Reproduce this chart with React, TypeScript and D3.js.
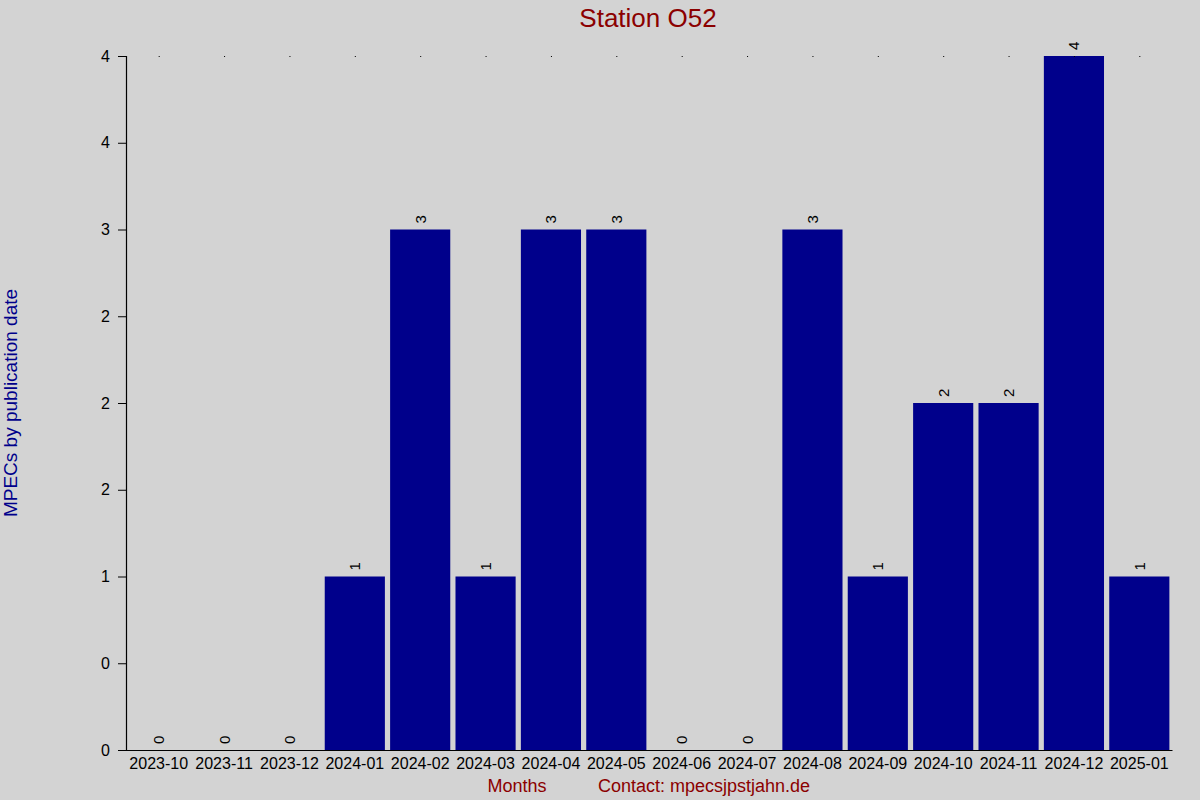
import { useMemo, useEffect, useRef } from "react";
import * as d3 from "d3";

const width = 1200;
const height = 800;
const margin = { top: 56, right: 28, bottom: 50, left: 126 };

const months = [
  "2023-10", "2023-11", "2023-12", "2024-01", "2024-02", "2024-03", "2024-04", "2024-05",
  "2024-06", "2024-07", "2024-08", "2024-09", "2024-10", "2024-11", "2024-12", "2025-01",
];
const counts = [0, 0, 0, 1, 3, 1, 3, 3, 0, 0, 3, 1, 2, 2, 4, 1];
const yTicks = [0, 0.5, 1, 1.5, 2, 2.5, 3, 3.5, 4];
const yTickLabels = ["0", "0", "1", "2", "2", "2", "3", "4", "4"];

const font = "'Liberation Sans', Arial, sans-serif";

const App = () => {
  const xAxisRef = useRef(null);
  const yAxisRef = useRef(null);

  const { xScale, yScale } = useMemo(() => {
    const xScale = d3
      .scaleBand()
      .domain(months)
      .range([margin.left, width - margin.right])
      .paddingInner(0.08)
      .paddingOuter(0.04);
    const yScale = d3
      .scaleLinear()
      .domain([0, 4])
      .range([height - margin.bottom, margin.top]);
    return { xScale, yScale };
  }, []);

  // Draw the axes
  useEffect(() => {
    if (xAxisRef.current) {
      const g = d3.select<SVGGElement, unknown>(xAxisRef.current);
      g.call(d3.axisBottom(xScale).tickSize(0).tickPadding(8));
      g.select(".domain").attr("stroke", "#000").attr("stroke-width", 1.2);
      g.selectAll("text")
        .attr("font-family", font)
        .attr("font-size", 16)
        .attr("fill", "#000");
    }
    if (yAxisRef.current) {
      const g = d3.select<SVGGElement, unknown>(yAxisRef.current);
      g.call(
        d3
          .axisLeft(yScale)
          .tickValues(yTicks)
          .tickFormat((_, i) => yTickLabels[i])
          .tickSize(8)
          .tickSizeOuter(8)
          .tickPadding(8)
      );
      g.select(".domain").attr("stroke", "#000").attr("stroke-width", 1.2);
      g.selectAll("line").attr("stroke", "#000");
      g.selectAll("text")
        .attr("font-family", font)
        .attr("font-size", 16)
        .attr("fill", "#000");
    }
  }, [xScale, yScale]);

  const bw = xScale.bandwidth();

  return (
    <svg
      width={width}
      height={height}
      style={{ position: "absolute", left: 0, top: 0, background: "#d3d3d3" }}
    >
      <rect x={0} y={0} width={width} height={height} fill="#d3d3d3" />
      <text
        x={648}
        y={27}
        textAnchor="middle"
        fontFamily={font}
        fontSize={26}
        fill="#8b0000"
      >
        Station O52
      </text>
      {months.map((m, i) => (
        <rect
          key={m}
          x={xScale(m)}
          y={yScale(counts[i])}
          width={bw}
          height={yScale(0) - yScale(counts[i])}
          fill="#00008b"
        />
      ))}
      {months.map((m) => (
        <rect
          key={"dot" + m}
          x={(xScale(m) as number) + bw / 2}
          y={yScale(4)}
          width={1}
          height={1}
          fill="#000"
        />
      ))}
      {months.map((m, i) => {
        const cx = (xScale(m) as number) + bw / 2;
        const cy = yScale(counts[i]) - 6;
        return (
          <text
            key={"lbl" + m}
            transform={`translate(${cx + 5.5},${cy}) rotate(-90)`}
            textAnchor="start"
            fontFamily={font}
            fontSize={15}
            fill="#000"
          >
            {counts[i]}
          </text>
        );
      })}
      <g ref={xAxisRef} transform={`translate(0, ${height - margin.bottom})`} />
      <g ref={yAxisRef} transform={`translate(${margin.left}, 0)`} />
      <text
        transform={`translate(17, ${403}) rotate(-90)`}
        textAnchor="middle"
        fontFamily={font}
        fontSize={19}
        fill="#00008b"
      >
        MPECs by publication date
      </text>
      <text x={517} y={792} textAnchor="middle" fontFamily={font} fontSize={18} fill="#8b0000">
        Months
      </text>
      <text x={598} y={792} textAnchor="start" fontFamily={font} fontSize={18} fill="#8b0000">
        Contact: mpecsjpstjahn.de
      </text>
    </svg>
  );
};

export default App;
